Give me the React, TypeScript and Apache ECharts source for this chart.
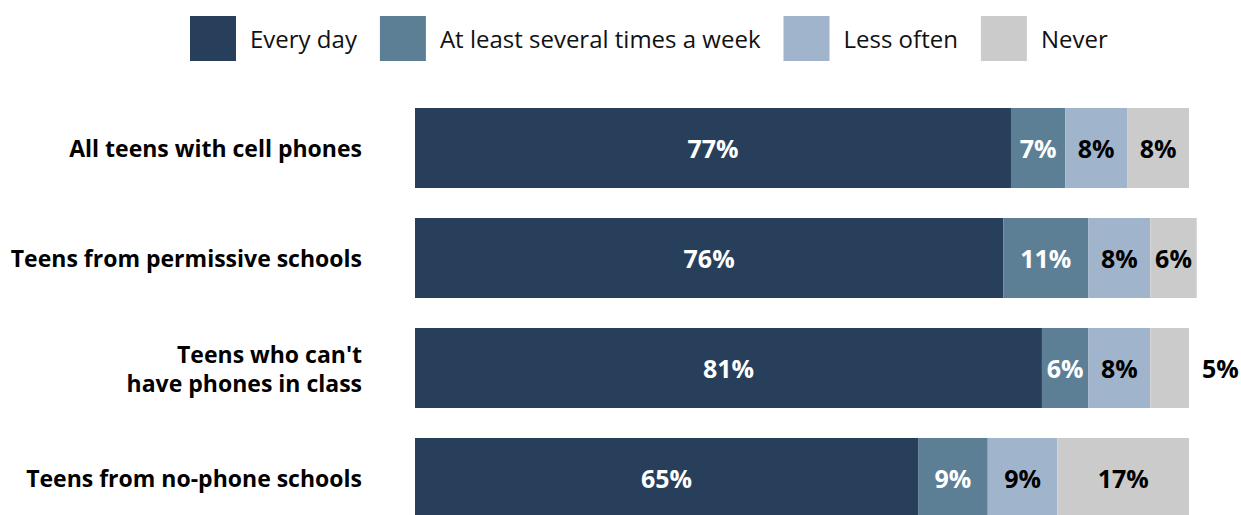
import React, { useEffect, useRef } from "react";
import * as echarts from "echarts";

const categories = [
  "All teens with cell phones",
  "Teens from permissive schools",
  "Teens who can't\nhave phones in class",
  "Teens from no-phone schools",
];
const seriesNames = ["Every day", "At least several times a week", "Less often", "Never"];
const everyDay = [77, 76, 81, 65];
const severalWeek = [7, 11, 6, 9];
const lessOften = [8, 8, 8, 9];
const never = [8, 6, 5, 17];
const colors = ["#283f5c", "#5d7f96", "#a0b4cb", "#cbcbcb"];
const labelColors = ["#ffffff", "#ffffff", "#000000", "#000000"];

const FONT = "'Open Sans', 'Noto Sans', sans-serif";

export default function App() {
  const ref = useRef<HTMLDivElement>(null);
  useEffect(() => {
    if (!ref.current) return;
    const chart = echarts.init(ref.current, undefined, { renderer: "svg" });
    const allData = [everyDay, severalWeek, lessOften, never];
    const series = seriesNames.map((name, i) => ({
      name,
      type: "bar",
      stack: "total",
      barWidth: 80,
      clip: false,
      itemStyle: { color: colors[i] },
      label: {
        show: true,
        position: "inside",
        formatter: "{c}%",
        color: labelColors[i],
        fontFamily: FONT,
        fontWeight: "bold",
        fontSize: 25,
      },
      data: allData[i].map((v, j) =>
        i === 3 && j === 2
          ? { value: v, label: { position: "right", distance: 13 } }
          : v
      ),
    }));
    chart.setOption({
      animation: false,
      legend: {
        left: 190,
        top: 16,
        padding: 0,
        itemWidth: 46,
        itemHeight: 45,
        itemGap: 23,
        icon: "rect",
        textStyle: {
          fontFamily: FONT,
          fontSize: 24,
          color: "#111111",
          padding: [0, 0, 0, 9],
        },
        data: seriesNames,
      },
      grid: { left: 415, right: 52, top: 93, bottom: 0, containLabel: false },
      xAxis: {
        type: "value",
        min: 0,
        max: 100,
        show: false,
      },
      yAxis: {
        type: "category",
        inverse: true,
        data: categories,
        axisLine: { show: false },
        axisTick: { show: false },
        axisLabel: {
          margin: 53,
          align: "right",
          fontFamily: FONT,
          fontWeight: "bold",
          fontSize: 23,
          lineHeight: 29,
          color: "#000000",
        },
      },
      series,
    });
    return () => chart.dispose();
  }, []);
  return (
    <div
      ref={ref}
      style={{ position: "fixed", left: 0, top: 0, width: 1241, height: 533, background: "#ffffff" }}
    />
  );
}
